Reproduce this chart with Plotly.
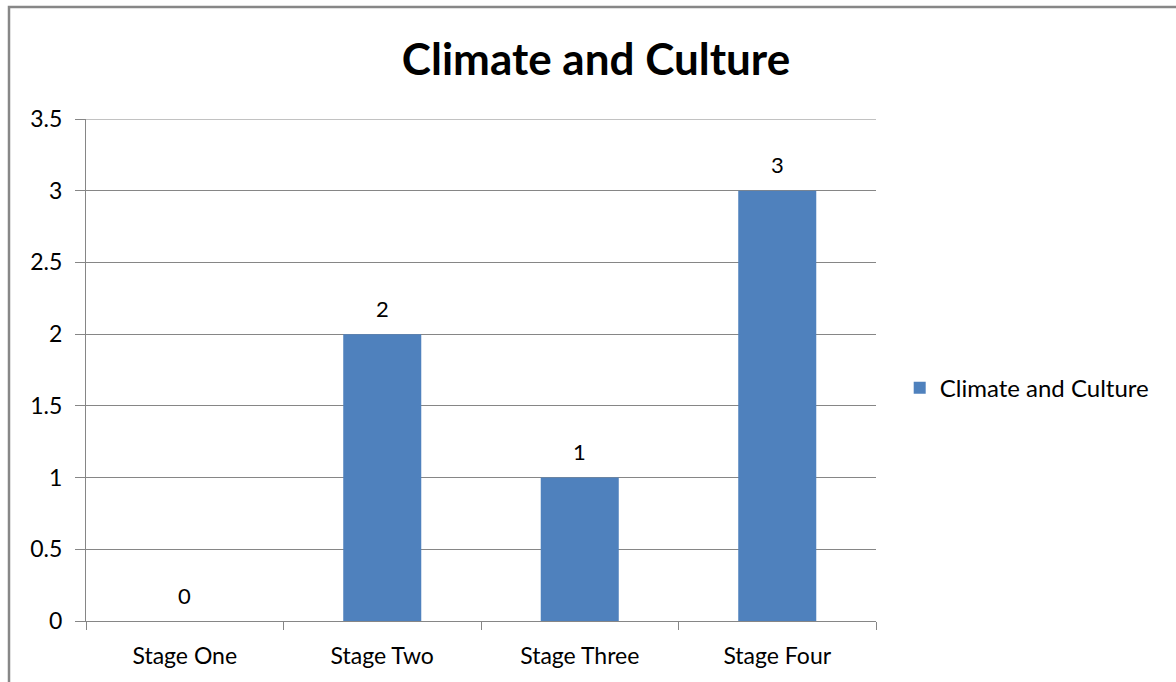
import plotly.graph_objects as go

stages = ["Stage One", "Stage Two", "Stage Three", "Stage Four"]
scores = [0, 2, 1, 3]
series_name = "Climate and Culture"
y_ticks = [0, 0.5, 1, 1.5, 2, 2.5, 3, 3.5]
y_tick_text = ["0", "0.5", "1", "1.5", "2", "2.5", "3", "3.5"]

bar_color = "#4F81BD"
grid_color = "#868686"
font_family = "Lato, 'Open Sans', sans-serif"

fig = go.Figure(
    go.Bar(
        x=stages,
        y=scores,
        name=series_name,
        marker=dict(color=bar_color, line=dict(width=0)),
        showlegend=True,
    )
)

# value labels above each bar
for stage, value in zip(stages, scores):
    fig.add_annotation(
        x=stage,
        y=value,
        text=str(value),
        showarrow=False,
        yshift=26,
        yanchor="middle",
        font=dict(family=font_family, size=22, color="#000000"),
    )

fig.update_layout(
    width=1176,
    height=682,
    margin=dict(l=86, r=300, t=119, b=61),
    paper_bgcolor="white",
    plot_bgcolor="white",
    bargap=0.605,
    title=dict(
        text="<b>Climate and Culture</b>",
        font=dict(family=font_family, size=44, color="#000000"),
        x=596 / 1176,
        xanchor="center",
        y=1 - 60 / 682,
        yanchor="middle",
    ),
    legend=dict(
        x=1.03,
        y=0.464,
        xanchor="left",
        yanchor="middle",
        font=dict(family=font_family, size=24, color="#000000"),
        itemwidth=30,
        bgcolor="rgba(0,0,0,0)",
    ),
    xaxis=dict(
        showline=True,
        linecolor=grid_color,
        linewidth=1,
        ticks="outside",
        tickson="boundaries",
        ticklen=8,
        tickcolor=grid_color,
        ticklabelstandoff=14,
        tickfont=dict(family=font_family, size=23, color="#000000"),
        showgrid=False,
    ),
    yaxis=dict(
        range=[0, 3.5],
        tickvals=y_ticks,
        ticktext=y_tick_text,
        showline=True,
        linecolor=grid_color,
        linewidth=1,
        ticks="outside",
        ticklen=10,
        tickcolor=grid_color,
        ticklabelstandoff=8,
        showgrid=True,
        gridcolor=grid_color,
        gridwidth=1,
        zeroline=False,
        tickfont=dict(family=font_family, size=23, color="#000000"),
    ),
    shapes=[
        # outer chart border
        dict(
            type="rect",
            xref="paper",
            yref="paper",
            x0=(9 - 86) / 790,
            x1=1.6,
            y0=-0.5,
            y1=(621 - 7) / 502,
            line=dict(color="#878787", width=2.5),
            fillcolor="rgba(0,0,0,0)",
            layer="below",
        ),
        # gridline at the top of the value axis
        dict(
            type="line",
            xref="paper",
            yref="y",
            x0=0,
            x1=1,
            y0=y_ticks[-1],
            y1=y_ticks[-1],
            line=dict(color=grid_color, width=1),
            layer="below",
        ),
    ],
)

fig.write_html("out.html")
